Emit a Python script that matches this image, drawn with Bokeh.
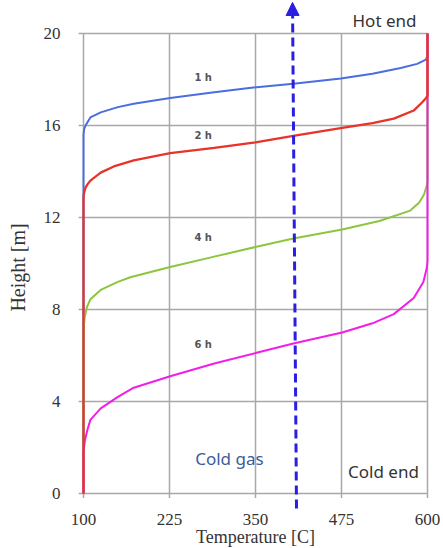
from bokeh.plotting import figure
from bokeh.models import Arrow, NormalHead, Label
from bokeh.embed import file_html
from bokeh.resources import INLINE
import math

# ---- data ----
x_ticks = [100, 225, 350, 475, 600]
y_ticks = [0, 4, 8, 12, 16, 20]
x_tick_labels = [str(v) for v in x_ticks]
y_tick_labels = [str(v) for v in y_ticks]

t_1h = [100, 100, 101, 103, 106, 110, 125, 150, 173, 226, 290, 347, 405, 474, 520, 561, 585, 597, 600, 600]
h_1h = [0, 15.6, 15.85, 16.0, 16.15, 16.35, 16.57, 16.8, 16.95, 17.2, 17.45, 17.65, 17.82, 18.04, 18.25, 18.5, 18.68, 18.85, 19.0, 20]

t_2h = [100, 100, 101, 103, 106, 110, 125, 144, 173, 226, 290, 350, 405, 476, 520, 551, 580, 592, 598, 600, 600]
h_2h = [0, 12.9, 13.1, 13.3, 13.45, 13.6, 13.95, 14.22, 14.48, 14.8, 15.03, 15.27, 15.55, 15.9, 16.1, 16.3, 16.65, 17.0, 17.2, 17.3, 20]

t_4h = [100, 100, 102, 105, 110, 125, 150, 168, 226, 290, 353, 405, 476, 530, 575, 588, 595, 599, 600, 600]
h_4h = [0, 7.2, 7.7, 8.1, 8.45, 8.85, 9.2, 9.4, 9.85, 10.3, 10.74, 11.09, 11.48, 11.85, 12.3, 12.65, 13.0, 13.4, 13.6, 20]

t_6h = [100, 100, 102, 106, 110, 125, 150, 173, 226, 290, 353, 405, 476, 520, 551, 580, 594, 599, 600, 600]
h_6h = [0, 1.8, 2.3, 2.8, 3.2, 3.7, 4.2, 4.6, 5.1, 5.65, 6.13, 6.52, 7.0, 7.4, 7.8, 8.5, 9.2, 9.8, 10.1, 20]

curve_labels = ["1 h", "2 h", "4 h", "6 h"]
label_t = [274, 274, 274, 274]
label_h = [18.1, 15.57, 11.13, 6.48]

arrow_t = [409.6, 403.8]
arrow_h = [-0.65, 21.35]

# ---- figure (frame fills the whole canvas) ----
p = figure(width=443, height=548, x_range=(-20.64, 623.26), y_range=(-2.391, 21.435),
           min_border=0, toolbar_location=None, output_backend="svg")
p.outline_line_color = None
p.xaxis.visible = False
p.yaxis.visible = False
p.xgrid.visible = False
p.ygrid.visible = False
p.background_fill_color = "white"
p.border_fill_color = "white"

grid_color = "#a8a8a8"
p.segment(x0=x_ticks, y0=[-0.2] * len(x_ticks), x1=x_ticks, y1=[20] * len(x_ticks),
          line_color=grid_color, line_width=1.5)
p.segment(x0=[93] * len(y_ticks), y0=y_ticks, x1=[600] * len(y_ticks), y1=y_ticks,
          line_color=grid_color, line_width=1.5)

# tick labels
p.text(x=x_ticks, y=[-1.12] * len(x_ticks), text=x_tick_labels,
       text_font={"value": "Liberation Serif"}, text_font_size="17px", text_color="#333333",
       text_align="center", text_baseline="middle")
p.text(x=[66.5] * len(y_ticks), y=y_ticks, text=y_tick_labels,
       text_font={"value": "Liberation Serif"}, text_font_size="17px", text_color="#333333",
       text_align="right", text_baseline="middle")

p.line(t_1h, h_1h, line_color="#4a6ee0", line_width=2)
p.line(t_4h, h_4h, line_color="#8cc63f", line_width=2)
p.line(t_6h, h_6h, line_color="#f21ee8", line_width=2)
p.line(t_2h, h_2h, line_color="#e8332a", line_width=2.3)

for txt, tx, hy in zip(curve_labels, label_t, label_h):
    p.add_layout(Label(x=tx, y=hy, text=txt, text_font="DejaVu Sans", text_font_style="bold",
                       text_font_size="10px", text_color="#555555", text_align="center",
                       text_baseline="middle"))

arrow_color = "#2a1ee0"
p.add_layout(Arrow(x_start=arrow_t[0], y_start=arrow_h[0], x_end=arrow_t[1], y_end=arrow_h[1],
                   line_color=arrow_color, line_width=3, line_dash="9 5",
                   end=NormalHead(size=13, fill_color=arrow_color, line_color=arrow_color,
                                  line_width=1)))

p.add_layout(Label(x=537.5, y=20.57, text="Hot end", text_font="Noto Sans", text_font_size="17px",
                   text_color="#333333", text_align="center", text_baseline="middle"))
p.add_layout(Label(x=536, y=0.96, text="Cold end", text_font="Noto Sans", text_font_size="17px",
                   text_color="#333333", text_align="center", text_baseline="middle"))
p.add_layout(Label(x=312, y=1.52, text="Cold gas", text_font="Noto Sans", text_font_size="17px",
                   text_color="#3c5a9c", text_align="center", text_baseline="middle"))

p.add_layout(Label(x=5.5, y=9.83, text="Height [m]", angle=math.pi / 2, text_font="Liberation Serif",
                   text_font_size="20px", text_color="#333333", text_align="center",
                   text_baseline="middle"))
p.add_layout(Label(x=350, y=-1.87, text="Temperature [C]", text_font="Liberation Serif",
                   text_font_size="18px", text_color="#333333", text_align="center",
                   text_baseline="middle"))

open("out.html", "w").write(file_html(p, INLINE))
